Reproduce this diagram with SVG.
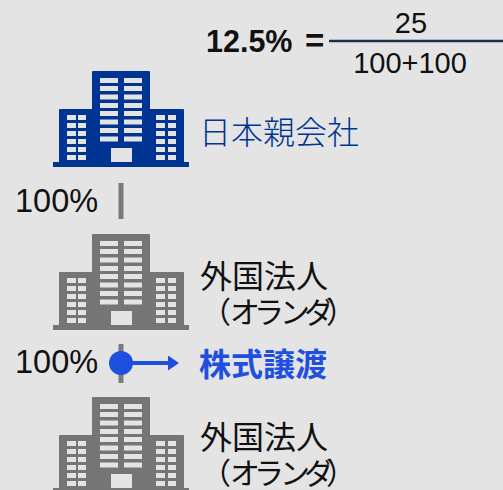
<svg xmlns="http://www.w3.org/2000/svg" width="503" height="490" viewBox="0 0 503 490">
<style>
.t{font-family:"Liberation Sans","Noto Sans CJK JP",sans-serif;font-size:32.500px;fill:#111}
.j{font-family:"Noto Sans CJK JP",sans-serif;font-size:32px;font-weight:400;fill:#111}
.k{font-size:30px}
.f{font-family:"Liberation Sans",sans-serif;font-size:29px;fill:#111}
.b{font-family:"Liberation Sans",sans-serif;font-size:30.500px;font-weight:700;fill:#111}
.w{fill:#e4e4e4}
.conn{stroke:#7a7a7a;stroke-width:5;fill:none}
</style>
<defs>
<g id="bld">
<path d="M53 162H59V110Q59 109 60 109H92V72Q92 71 93 71H149Q150 71 150 72V109H183Q184 109 184 110V162H189V167H53Z"/>
<g class="w">
<path d="M100 78h18v5h-18zM124 78h18v5h-18zM100 86h18v5h-18zM124 86h18v5h-18zM100 94.500h18v5h-18zM124 94.500h18v5h-18zM100 103h18v5h-18zM124 103h18v5h-18zM100 111h18v5h-18zM124 111h18v5h-18zM100 119.500h18v5h-18zM124 119.500h18v5h-18zM100 128h18v5h-18zM124 128h18v5h-18zM100 136.500h18v5h-18zM124 136.500h18v5h-18z"/>
<path d="M67 115h9v5h-9zM78 115h8v5h-8zM67 123h9v5h-9zM78 123h8v5h-8zM67 131h9v5h-9zM78 131h8v5h-8zM67 139h9v5h-9zM78 139h8v5h-8zM67 147h9v5h-9zM78 147h8v5h-8zM67 155h9v5h-9zM78 155h8v5h-8z"/>
<path d="M156 115h9v5h-9zM168 115h8v5h-8zM156 123h9v5h-9zM168 123h8v5h-8zM156 131h9v5h-9zM168 131h8v5h-8zM156 139h9v5h-9zM168 139h8v5h-8zM156 147h9v5h-9zM168 147h8v5h-8zM156 155h9v5h-9zM168 155h8v5h-8z"/>
<rect x="111" y="148" width="21" height="14"/>
</g>
</g>
<marker id="ah" markerWidth="11" markerHeight="15" refX="0" refY="7.500" orient="auto" markerUnits="userSpaceOnUse"><path d="M0 0L11 7.500L0 15Z" fill="#1f4fe0"/></marker>
</defs>
<rect width="503" height="490" fill="#e4e4e4"/>
<g id="connectors">
<line class="conn" x1="121" y1="183" x2="121" y2="219"/>
<line class="conn" x1="121" y1="344" x2="121" y2="383"/>
<line x1="121" y1="363" x2="168" y2="363" stroke="#1f4fe0" stroke-width="4" marker-end="url(#ah)"/>
<circle cx="121" cy="363" r="12" fill="#1f4fe0"/>
</g>
<g id="formula">
<text x="206" y="52" class="b">12.5%</text>
<text x="305" y="52" class="b" style="font-size:33px">=</text>
<line x1="329" y1="41" x2="503" y2="41" stroke="#17304d" stroke-width="2.500"/>
<text x="411" y="33" text-anchor="middle" class="f">25</text>
<text x="410" y="73" text-anchor="middle" class="f">100+100</text>
</g>
<g id="parent" fill="#003594">
<use href="#bld"/>
<text x="199" y="144" class="j" style="fill:#003594;font-weight:300">日本親会社</text>
</g>
<text id="pct1" x="15" y="212" class="t">100%</text>
<g id="sub1" fill="#757575">
<use href="#bld" y="163"/>
<text class="j"><tspan x="200" y="288">外国法人</tspan><tspan class="k" x="201 230 254 280 304 326" y="323">（オランダ）</tspan></text>
</g>
<text id="pct2" x="15" y="373" class="t">100%</text>
<text id="transfer" x="199" y="376" font-family="Noto Sans CJK JP" font-size="32" font-weight="700" fill="#1f4fe0">株式譲渡</text>
<g id="sub2" fill="#757575">
<use href="#bld" y="326"/>
<text class="j"><tspan x="200" y="449">外国法人</tspan><tspan class="k" x="201 230 254 280 304 326" y="484">（オランダ）</tspan></text>
</g>
</svg>
